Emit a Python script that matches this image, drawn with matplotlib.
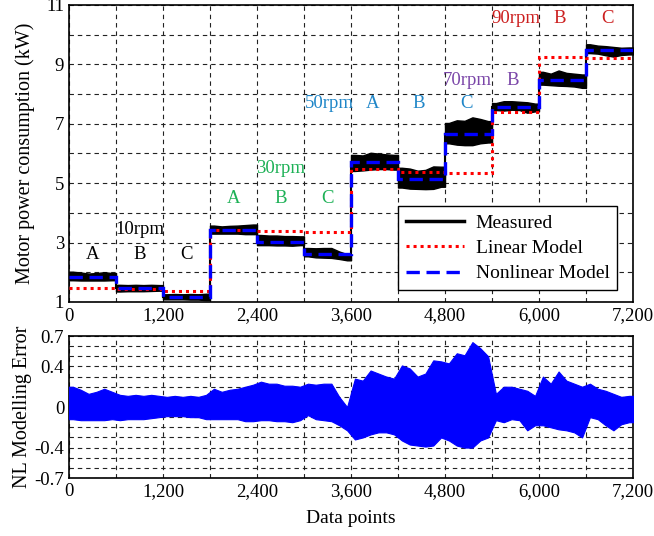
import numpy as np
import matplotlib
matplotlib.use("Agg")
import matplotlib.pyplot as plt
from matplotlib.lines import Line2D

plt.rcParams['font.family'] = ['Liberation Serif', 'DejaVu Serif']
plt.rcParams['font.size'] = 13

# ---- data ----
seg_edges = [0, 600, 1200, 1800, 2400, 3000, 3600, 4200, 4800, 5400, 6000, 6600, 7200]
nl_levels = [1.84, 1.47, 1.17, 3.41, 3.03, 2.61, 5.70, 5.15, 6.64, 7.58, 8.48, 9.47]
lin_levels = [1.48, 1.45, 1.38, 3.44, 3.40, 3.37, 5.48, 5.38, 5.34, 7.40, 9.24, 9.21]

# NL modelling error envelope, one value per 100 data points
err_hi = [0.20, 0.17, 0.13, 0.15, 0.18, 0.15,
          0.12, 0.11, 0.12, 0.11, 0.12, 0.11,
          0.10, 0.11, 0.10, 0.11, 0.10, 0.12,
          0.18, 0.15, 0.17, 0.18, 0.20, 0.22,
          0.25, 0.23, 0.23, 0.21, 0.21, 0.20,
          0.23, 0.22, 0.23, 0.23, 0.10, 0.00,
          0.28, 0.26, 0.36, 0.33, 0.30, 0.28,
          0.41, 0.38, 0.30, 0.33, 0.46, 0.45,
          0.43, 0.53, 0.51, 0.64, 0.58, 0.50,
          0.13, 0.20, 0.20, 0.18, 0.16, 0.11,
          0.30, 0.23, 0.35, 0.26, 0.23, 0.20,
          0.23, 0.18, 0.16, 0.13, 0.10, 0.11]
err_lo = [-0.12, -0.13, -0.13, -0.13, -0.13, -0.12,
          -0.13, -0.12, -0.12, -0.12, -0.11, -0.10,
          -0.09, -0.09, -0.09, -0.10, -0.10, -0.12,
          -0.12, -0.12, -0.12, -0.12, -0.14, -0.14,
          -0.13, -0.13, -0.14, -0.14, -0.15, -0.13,
          -0.08, -0.12, -0.13, -0.14, -0.18, -0.23,
          -0.32, -0.30, -0.27, -0.25, -0.25, -0.27,
          -0.33, -0.37, -0.38, -0.39, -0.38, -0.30,
          -0.33, -0.38, -0.40, -0.40, -0.33, -0.30,
          -0.13, -0.15, -0.12, -0.13, -0.23, -0.18,
          -0.18, -0.20, -0.22, -0.23, -0.25, -0.30,
          -0.10, -0.12, -0.18, -0.23, -0.17, -0.15]
env_step = 100

# annotations: (text, x, y, color)
labels = [
    ("A", 300, 2.6, "black"), ("10rpm", 900, 3.45, "black"), ("B", 900, 2.6, "black"), ("C", 1500, 2.6, "black"),
    ("A", 2100, 4.47, "#1db156"), ("30rpm", 2700, 5.5, "#1db156"), ("B", 2700, 4.47, "#1db156"), ("C", 3300, 4.47, "#1db156"),
    ("50rpm", 3330, 7.67, "#1f86c8"), ("A", 3870, 7.67, "#1f86c8"), ("B", 4470, 7.67, "#1f86c8"), ("C", 5070, 7.67, "#1f86c8"),
    ("70rpm", 5080, 8.47, "#7a45a8"), ("B", 5660, 8.47, "#7a45a8"),
    ("90rpm", 5700, 10.56, "#cc1f1f"), ("B", 6270, 10.56, "#cc1f1f"), ("C", 6880, 10.56, "#cc1f1f"),
]

fig = plt.figure(figsize=(6.54, 5.36), dpi=100)
ax1 = fig.add_axes([0.1055, 0.4366, 0.8624, 0.5541])
ax2 = fig.add_axes([0.1055, 0.1082, 0.8624, 0.2649])

grid_kw = dict(color='#222222', linestyle=(0, (4, 3.5)), linewidth=0.8)

# ---- top plot ----
nseg = len(nl_levels)
per = len(err_hi) // nseg
for s in range(nseg):
    x0 = seg_edges[s]
    xs = [x0] + [x0 + env_step * k + env_step / 2 for k in range(per)] + [seg_edges[s + 1]]
    hi = err_hi[s * per:(s + 1) * per]
    lo = err_lo[s * per:(s + 1) * per]
    hi = [hi[0]] + hi + [hi[-1]]
    lo = [lo[0]] + lo + [lo[-1]]
    up = [nl_levels[s] + v * 0.9 for v in hi]
    dn = [nl_levels[s] + v * 0.9 for v in lo]
    ax1.fill_between(xs, dn, up, color='black', linewidth=1.0, edgecolor='black', zorder=3)
for s in range(1, nseg):
    ax1.plot([seg_edges[s], seg_edges[s]], [nl_levels[s - 1], nl_levels[s]], color='black', lw=1.5, zorder=3)

ax1.stairs(lin_levels, seg_edges, baseline=None, color='red', lw=2.2, linestyle=(0, (1, 1.3)), zorder=4)
ax1.stairs(nl_levels, seg_edges, baseline=None, color='blue', lw=2.4, linestyle=(0, (4, 2)), zorder=5)

for t, x, y, c in labels:
    ax1.text(x, y, t, color=c, ha='center', va='center', fontsize=13.5, zorder=6)

ax1.set_xlim(0, 7200)
ax1.set_ylim(1, 11)
ax1.set_xticks(range(0, 7201, 1200))
ax1.set_xticklabels([f"{v:,}" for v in range(0, 7201, 1200)])
ax1.set_xticks(range(0, 7201, 600), minor=True)
ax1.set_yticks(range(1, 12, 2))
ax1.set_yticks(range(1, 12, 1), minor=True)
ax1.grid(True, which='both', **grid_kw)
ax1.set_axisbelow(True)
ax1.tick_params(which='both', direction='in', length=0, labelsize=13.5)
ax1.tick_params(axis='x', pad=4)
ax1.set_ylabel("Motor power consumption (kW)", fontsize=14.5, labelpad=8)

handles = [Line2D([], [], color='black', lw=2.5),
           Line2D([], [], color='red', lw=2.2, linestyle=(0, (1, 1.3))),
           Line2D([], [], color='blue', lw=2.4, linestyle=(0, (4, 2)))]
leg = ax1.legend(handles, ["Measured", "Linear Model", "Nonlinear Model"],
                 loc='lower right', bbox_to_anchor=(0.972, 0.04), borderaxespad=0,
                 fancybox=False, edgecolor='black', framealpha=1, fontsize=14,
                 handlelength=3.0, borderpad=0.4, labelspacing=0.4, handletextpad=0.6)
leg.get_frame().set_linewidth(1.0)
leg.set_zorder(10)

# ---- bottom plot ----
xe = [env_step * k + env_step / 2 for k in range(len(err_hi))]
xe = [0] + xe + [7200]
eh = [err_hi[0]] + err_hi + [err_hi[-1]]
el = [err_lo[0]] + err_lo + [err_lo[-1]]
ax2.fill_between(xe, el, eh, color='blue', edgecolor='blue', linewidth=0.8, zorder=3)

ax2.set_xlim(0, 7200)
ax2.set_ylim(-0.7, 0.7)
ax2.set_xticks(range(0, 7201, 1200))
ax2.set_xticklabels([f"{v:,}" for v in range(0, 7201, 1200)])
ax2.set_xticks(range(0, 7201, 600), minor=True)
ax2.set_yticks([-0.7, -0.4, 0, 0.4, 0.7])
ax2.set_yticklabels(["-0.7", "-0.4", "0", "0.4", "0.7"])
ax2.set_yticks(np.round(np.arange(-0.7, 0.71, 0.1), 2), minor=True)
ax2.grid(True, which='both', **grid_kw)
ax2.set_axisbelow(True)
ax2.tick_params(which='both', direction='in', length=0, labelsize=13.5)
ax2.set_ylabel("NL Modelling Error", fontsize=14.5, labelpad=2)
ax2.set_xlabel("Data points", fontsize=14, labelpad=7)

for ax in (ax1, ax2):
    for sp in ax.spines.values():
        sp.set_linewidth(1.2)

fig.savefig("out.png", dpi=100)
